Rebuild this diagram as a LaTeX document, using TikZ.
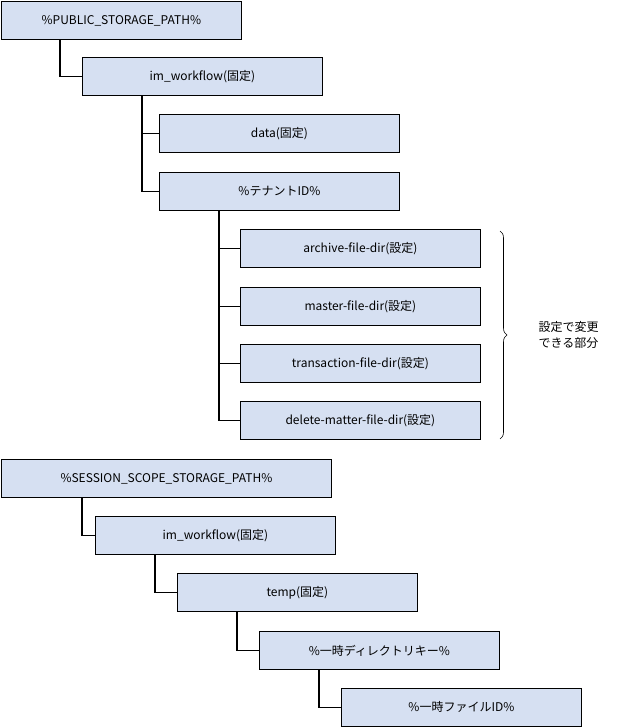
\documentclass[tikz,border=0pt]{standalone}
\usepackage{fontspec}
\setmainfont{Noto Sans CJK JP}
\usetikzlibrary{decorations.pathreplacing}
\definecolor{boxfill}{HTML}{D6E0F2}
\begin{document}
\begin{tikzpicture}[x=1pt,y=-1pt,
  bx/.style={draw=black,fill=boxfill,line width=0.8pt,minimum width=240pt,minimum height=38pt,inner sep=0pt,font=\fontsize{12}{14}\selectfont,anchor=north west},
  ln/.style={line width=1.6pt}]
\useasboundingbox (0,0) rectangle (640,727);
\node[bx] (p) at (1,1) {\%PUBLIC\_STORAGE\_PATH\%};
\node[bx] (w) at (82,57) {im\_workflow(固定)};
\node[bx] (d) at (159,114) {data(固定)};
\node[bx] (t) at (159,172) {\%テナントID\%};
\node[bx] (a) at (240,229) {archive-file-dir(設定)};
\node[bx] (m) at (240,287) {master-file-dir(設定)};
\node[bx] (tr) at (240,344) {transaction-file-dir(設定)};
\node[bx] (de) at (240,401) {delete-matter-file-dir(設定)};
\draw[ln] (p.south west)++(59,0) |- (w.west);
\draw[ln] (w.south west)++(60,0) |- (d.west);
\draw[ln] (w.south west)++(60,0) |- (t.west);
\foreach \n in {a,m,tr,de}{\draw[ln] (t.south west)++(60,0) |- (\n.west);}
\draw[line width=0.6pt,decorate,decoration={brace,amplitude=7pt}] (500,231) -- (500,439) coordinate[pos=0.5] (bm);
\node[font=\fontsize{12}{16}\selectfont,align=left,anchor=west] (lab) at (535,335) {設定で変更\\できる部分};
\node[bx,minimum width=330pt] (s) at (1,459) {\%SESSION\_SCOPE\_STORAGE\_PATH\%};
\node[bx] (w2) at (95,516) {im\_workflow(固定)};
\node[bx] (tp) at (177,573) {temp(固定)};
\node[bx] (k) at (259,631) {\%一時ディレクトリキー\%};
\node[bx] (f) at (341,688) {\%一時ファイルID\%};
\draw[ln] (s.south west)++(81,0) |- (w2.west);
\draw[ln] (w2.south west)++(60,0) |- (tp.west);
\draw[ln] (tp.south west)++(60,0) |- (k.west);
\draw[ln] (k.south west)++(60,0) |- (f.west);
\end{tikzpicture}
\end{document}
